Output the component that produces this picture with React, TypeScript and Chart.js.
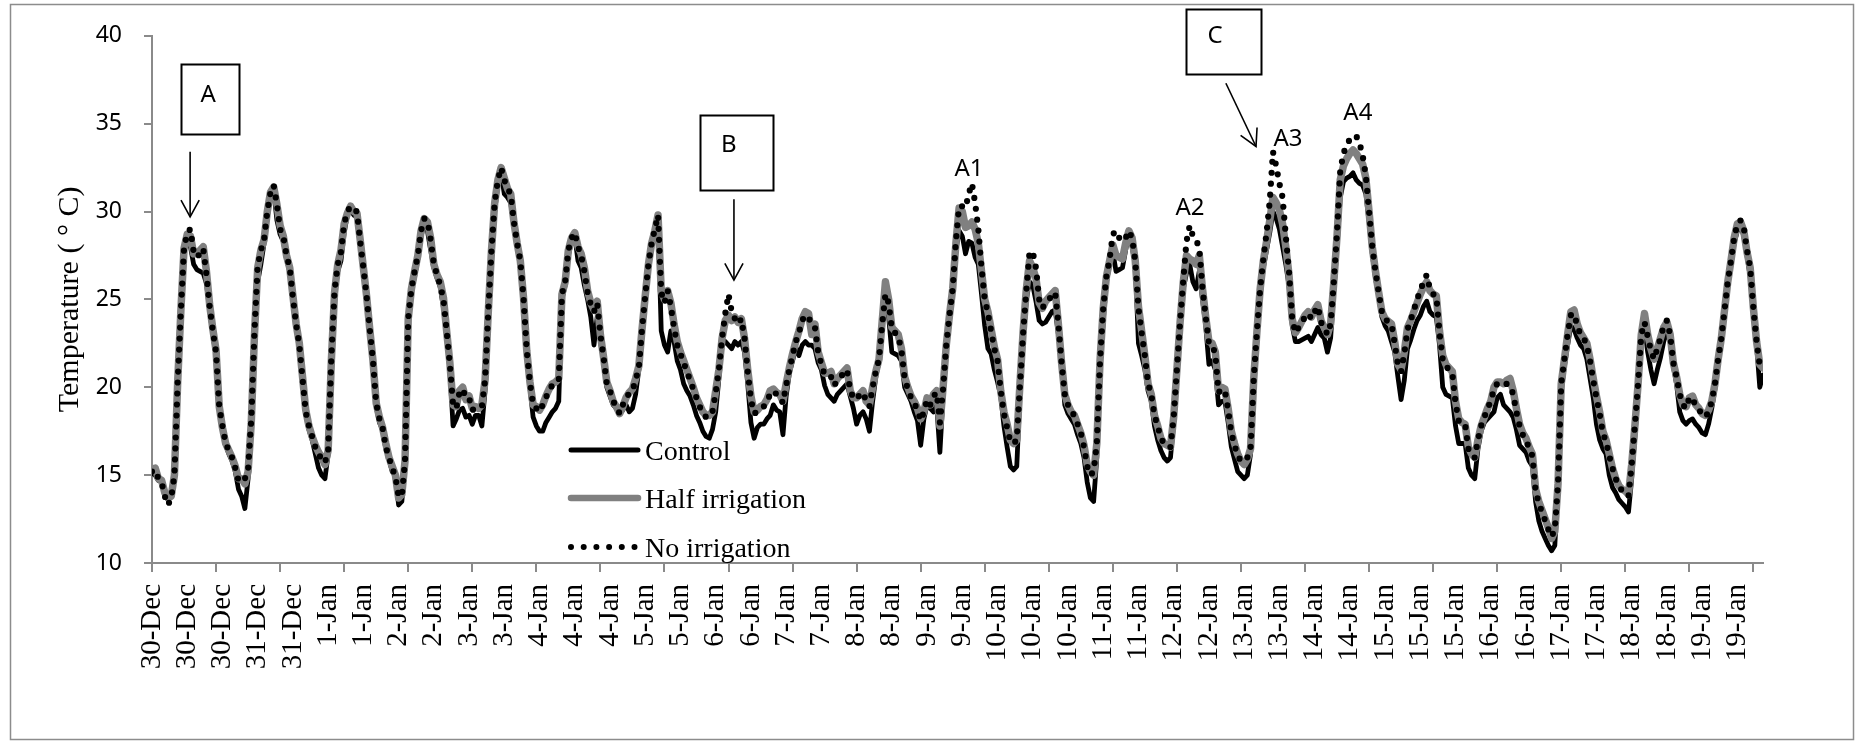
import React, { useEffect, useRef } from 'react';
import { Chart, registerables } from 'chart.js';

Chart.register(...registerables);

// Hourly readings from 30-Dec 00:00 (hour index 0) to 19-Jan 23:00 (hour index 503)
const tickLabels = [
  '30-Dec', '30-Dec', '30-Dec', '31-Dec', '31-Dec', '1-Jan', '1-Jan', '2-Jan', '2-Jan', '3-Jan',
  '3-Jan', '4-Jan', '4-Jan', '4-Jan', '5-Jan', '5-Jan', '6-Jan', '6-Jan', '7-Jan', '7-Jan',
  '8-Jan', '8-Jan', '9-Jan', '9-Jan', '10-Jan', '10-Jan', '10-Jan', '11-Jan', '11-Jan', '12-Jan',
  '12-Jan', '13-Jan', '13-Jan', '14-Jan', '14-Jan', '15-Jan', '15-Jan', '15-Jan', '16-Jan', '16-Jan',
  '17-Jan', '17-Jan', '18-Jan', '18-Jan', '19-Jan', '19-Jan',
];
const labelStep = 11; // hours between category labels
const tickMarkStep = 20; // hours between axis tick marks

const seriesNames = ['Control', 'Half irrigation', 'No irrigation'];

const control = [
  15.1, 15.0, 14.7, 14.6, 13.9, 13.6, 13.8, 15.0, 20.0, 24.2, 27.8, 28.3, 28.0, 27.0, 26.7, 26.6, 26.5, 25.9, 24.4, 23.0, 21.8, 18.7, 17.6, 16.7,
  16.2, 15.8, 15.2, 14.2, 13.8, 13.1, 14.8, 17.8, 22.8, 26.0, 27.0, 28.2, 29.7, 30.9, 31.2, 29.5, 28.7, 28.3, 27.3, 26.6, 25.0, 23.5, 22.3, 20.4,
  18.5, 17.6, 17.0, 16.2, 15.4, 15.0, 14.8, 16.2, 21.4, 25.3, 26.6, 27.2, 28.8, 29.8, 30.1, 29.8, 29.7, 28.1, 26.5, 25.0, 23.1, 21.3, 18.9, 18.0,
  17.6, 16.5, 15.9, 15.2, 15.0, 13.3, 13.5, 15.5, 23.8, 25.5, 26.3, 27.3, 28.6, 29.3, 28.9, 27.8, 26.8, 26.2, 25.7, 24.5, 23.0, 21.0, 17.8, 18.2,
  18.7, 18.8, 18.3, 18.4, 17.9, 18.4, 18.4, 17.8, 19.8, 24.0, 27.6, 30.0, 31.6, 32.2, 31.0, 30.8, 30.5, 29.2, 28.0, 27.0, 25.0, 22.0, 20.0, 18.3,
  17.8, 17.5, 17.5, 18.0, 18.3, 18.6, 18.8, 19.2, 25.0, 25.8, 27.5, 28.3, 28.6, 27.2, 26.8, 25.8, 25.0, 24.0, 22.4, 24.0, 22.6, 21.5, 20.0, 19.5,
  19.0, 18.8, 18.5, 18.7, 19.0, 18.6, 18.8, 19.6, 21.0, 23.2, 25.0, 26.8, 28.0, 28.8, 29.6, 23.2, 22.4, 22.0, 23.2, 22.6, 21.5, 21.0, 20.2, 19.8,
  19.5, 19.0, 18.4, 18.0, 17.5, 17.2, 17.1, 17.6, 18.6, 20.5, 22.4, 22.6, 22.4, 22.2, 22.6, 22.4, 22.6, 22.0, 20.2, 18.0, 17.1, 17.7, 17.9, 17.9,
  18.2, 18.4, 19.0, 18.7, 18.6, 17.3, 19.5, 20.8, 21.5, 22.3, 21.8, 22.4, 22.6, 22.4, 22.4, 22.2, 21.4, 21.0, 20.1, 19.6, 19.4, 19.2, 19.6, 19.8,
  20.0, 20.2, 19.5, 18.8, 17.9, 18.4, 18.6, 18.2, 17.5, 19.2, 20.6, 21.5, 23.5, 25.6, 24.0, 22.0, 21.9, 21.8, 21.5, 20.0, 19.6, 19.2, 18.6, 18.1,
  16.7, 18.2, 19.0, 18.8, 18.6, 19.0, 16.3, 19.5, 22.0, 23.8, 25.4, 27.8, 28.9, 28.6, 27.6, 28.3, 28.2, 27.4, 27.0, 25.3, 23.5, 22.2, 21.9, 21.0,
  20.3, 19.5, 17.8, 16.6, 15.5, 15.3, 15.5, 19.6, 22.8, 25.0, 26.0, 25.8, 24.9, 23.8, 23.6, 23.7, 24.0, 24.3, 24.4, 23.0, 21.3, 19.0, 18.5, 18.2,
  17.9, 17.3, 16.8, 16.0, 14.6, 13.7, 13.5, 16.0, 21.3, 23.8, 26.0, 27.0, 27.7, 26.6, 26.7, 26.8, 27.8, 28.8, 28.0, 27.0, 22.5, 21.8, 21.0, 19.8,
  19.2, 17.8, 17.0, 16.4, 16.0, 15.8, 16.0, 18.0, 20.8, 23.5, 25.6, 26.5, 27.0, 26.0, 25.6, 26.6, 25.0, 23.5, 21.3, 21.5, 21.0, 19.0, 19.2, 19.2,
  18.0, 16.6, 15.9, 15.2, 15.0, 14.8, 15.0, 16.2, 20.2, 22.8, 25.2, 26.8, 27.8, 28.8, 30.0, 29.6, 29.0, 28.0, 27.0, 25.8, 23.5, 22.6, 22.6, 22.7,
  22.8, 22.9, 22.6, 23.0, 23.4, 23.0, 22.8, 22.0, 22.8, 25.5, 28.0, 30.8, 31.7, 31.9, 32.0, 32.2, 31.8, 31.6, 31.5, 31.0, 29.4, 27.6, 26.2, 25.2,
  24.0, 23.5, 23.2, 22.6, 22.0, 20.6, 19.3, 20.4, 22.2, 22.7, 23.3, 23.8, 24.1, 24.6, 24.9, 24.3, 24.1, 24.0, 22.4, 20.0, 19.6, 19.5, 19.4, 17.8,
  16.8, 16.8, 16.8, 15.4, 15.0, 14.8, 16.5, 17.5, 18.0, 18.2, 18.4, 18.6, 19.4, 19.6, 19.0, 18.8, 18.6, 18.3, 17.6, 16.7, 16.5, 16.3, 15.8, 15.5,
  13.5, 12.4, 11.8, 11.4, 11.0, 10.7, 11.0, 14.5, 19.8, 21.2, 22.4, 23.5, 23.3, 22.8, 22.4, 22.2, 21.6, 20.5, 19.4, 17.9, 17.0, 16.5, 16.2, 15.0,
  14.3, 14.0, 13.6, 13.4, 13.2, 12.9, 14.8, 17.2, 19.8, 22.4, 23.4, 22.0, 21.0, 20.2, 21.0, 21.7, 22.6, 23.2, 22.6, 21.2, 20.2, 18.6, 18.1, 17.9,
  18.1, 18.2, 17.9, 17.7, 17.4, 17.3, 17.9, 18.8, 19.9, 21.4, 22.6, 24.2, 25.8, 27.0, 28.2, 28.9, 29.2, 28.6, 27.5, 26.3, 24.3, 22.4, 20.0, 20.7,
];

const halfIrrigation = [
  15.3, 15.4, 14.8, 14.7, 14.0, 13.7, 13.8, 15.0, 20.2, 24.3, 27.9, 28.7, 28.6, 27.6, 27.6, 27.8, 28.0, 26.6, 24.7, 23.3, 22.1, 18.9, 17.7, 16.8,
  16.4, 16.0, 15.5, 14.8, 14.8, 14.5, 15.2, 18.0, 23.0, 26.8, 27.8, 28.4, 30.0, 31.1, 31.4, 30.4, 29.2, 28.6, 27.5, 26.8, 25.2, 23.6, 22.5, 20.6,
  18.7, 17.8, 17.2, 16.7, 16.3, 16.0, 15.6, 16.4, 21.5, 25.4, 27.0, 27.8, 29.3, 29.9, 30.3, 30.0, 29.9, 28.4, 26.8, 25.2, 23.3, 21.5, 19.1, 18.3,
  17.7, 16.8, 16.0, 15.5, 15.0, 13.7, 13.9, 15.8, 23.9, 25.6, 26.6, 27.5, 28.9, 29.6, 29.4, 28.5, 27.0, 26.4, 26.0, 25.1, 23.2, 21.4, 19.0, 18.9,
  19.8, 20.0, 19.3, 19.5, 18.8, 18.9, 18.8, 19.0, 20.4, 24.3, 27.8, 30.5, 31.8, 32.5, 31.9, 31.3, 31.0, 29.4, 28.2, 27.2, 25.1, 22.1, 20.3, 19.0,
  18.9, 18.7, 19.0, 19.5, 19.9, 20.2, 20.3, 20.5, 25.3, 26.0, 27.8, 28.5, 28.8, 28.0, 27.6, 26.8, 25.5, 24.8, 24.4, 24.9, 23.0, 21.7, 20.3, 19.8,
  19.2, 18.9, 18.5, 18.9, 19.4, 19.7, 19.9, 20.5, 21.2, 23.3, 25.2, 27.0, 28.2, 28.9, 29.8, 25.5, 25.0, 25.5, 24.8, 23.6, 22.6, 22.0, 21.5, 21.0,
  20.5, 20.0, 19.4, 19.0, 18.6, 18.4, 18.4, 18.6, 19.8, 21.0, 22.8, 23.8, 24.1, 23.8, 24.0, 23.7, 23.9, 22.8, 21.0, 19.5, 18.6, 18.7, 18.9, 19.0,
  19.3, 19.8, 19.9, 19.7, 19.6, 19.2, 20.2, 21.1, 21.9, 22.6, 23.2, 23.9, 24.3, 24.2, 23.0, 23.6, 22.0, 21.4, 20.8, 20.8, 20.9, 20.2, 20.5, 20.7,
  20.9, 21.1, 19.8, 19.4, 19.4, 19.6, 19.8, 19.2, 19.0, 20.0, 20.9, 21.6, 23.8, 26.0, 25.0, 23.4, 23.2, 23.0, 22.2, 20.6, 20.0, 19.5, 19.2, 18.8,
  18.2, 18.6, 19.4, 19.0, 19.6, 19.8, 17.8, 20.0, 22.4, 24.1, 25.6, 28.2, 30.2, 30.0, 29.1, 29.2, 29.4, 29.0, 28.2, 26.6, 25.0, 24.3, 23.3, 22.3,
  21.6, 19.8, 18.6, 17.9, 17.0, 16.8, 17.0, 20.2, 23.2, 25.6, 27.2, 26.8, 26.2, 24.8, 24.5, 24.9, 25.1, 25.3, 25.5, 23.6, 21.4, 19.6, 19.0, 18.6,
  18.4, 17.9, 17.4, 16.7, 15.6, 15.2, 15.0, 16.8, 21.5, 24.5, 26.3, 27.2, 28.1, 27.5, 27.4, 27.3, 28.2, 28.9, 28.5, 27.2, 24.6, 23.2, 21.8, 20.2,
  19.6, 18.4, 17.8, 17.1, 16.8, 16.7, 16.6, 18.3, 21.0, 23.7, 26.0, 27.5, 27.3, 27.2, 27.0, 27.5, 25.6, 24.0, 22.6, 22.5, 22.0, 19.8, 20.0, 19.9,
  18.8, 17.5, 16.8, 16.2, 15.8, 15.6, 15.9, 16.5, 20.5, 23.2, 25.6, 27.2, 28.3, 29.5, 30.8, 30.5, 30.1, 29.3, 28.0, 26.4, 23.9, 23.1, 23.4, 23.75,
  24.1, 24.3, 24.0, 24.4, 24.7, 23.8, 23.4, 23.0, 23.6, 26.0, 28.6, 31.8, 32.6, 33.0, 33.3, 33.5, 33.3, 33.0, 32.7, 31.9, 30.0, 28.0, 26.6, 25.4,
  24.3, 23.9, 23.75, 23.6, 22.6, 21.3, 21.0, 22.0, 23.4, 23.8, 24.3, 24.8, 25.3, 25.7, 26.0, 25.5, 25.3, 25.2, 23.2, 21.8, 21.3, 21.1, 20.9, 19.2,
  18.2, 18.0, 17.9, 16.6, 16.2, 16.0, 17.0, 17.8, 18.3, 18.8, 19.2, 20.0, 20.3, 20.3, 20.2, 20.4, 20.5, 19.8, 18.8, 17.9, 17.4, 17.1, 16.6, 16.2,
  14.2, 13.5, 13.0, 12.5, 12.0, 11.4, 11.8, 14.5, 20.2, 21.6, 23.0, 24.3, 24.4, 23.6, 23.1, 22.8, 22.5, 21.6, 20.5, 19.5, 18.6, 17.5, 17.0, 16.2,
  15.4, 14.8, 14.4, 14.2, 14.1, 13.9, 15.6, 17.8, 20.2, 23.0, 24.2, 23.0, 22.2, 21.6, 22.2, 22.8, 23.4, 23.7, 23.0, 21.4, 20.6, 19.6, 19.0, 18.9,
  19.4, 19.5, 19.0, 18.8, 18.5, 18.4, 18.7, 19.2, 20.2, 21.6, 22.8, 24.4, 26.0, 27.2, 28.5, 29.3, 29.4, 28.9, 27.7, 26.8, 24.5, 22.6, 21.3, 21.1,
];

const noIrrigation = [
  15.2, 15.3, 14.8, 14.6, 13.8, 13.3, 13.7, 15.0, 20.2, 24.3, 27.9, 28.8, 29.0, 27.7, 27.4, 27.6, 27.9, 26.4, 24.6, 23.2, 22.0, 18.9, 17.8, 16.8,
  16.4, 16.0, 15.4, 14.7, 14.6, 14.8, 15.3, 18.2, 23.2, 26.9, 27.8, 28.4, 30.0, 31.1, 31.5, 30.4, 29.0, 28.6, 27.5, 26.8, 25.1, 23.6, 22.4, 20.5,
  18.6, 17.8, 17.2, 16.6, 16.2, 15.9, 15.7, 16.4, 21.7, 25.5, 27.0, 27.7, 29.3, 30.0, 30.3, 30.1, 30.0, 28.3, 26.8, 25.2, 23.3, 21.5, 19.1, 18.2,
  17.7, 16.6, 16.0, 15.4, 14.9, 13.8, 13.8, 15.8, 23.9, 25.6, 26.6, 27.5, 28.9, 29.6, 29.5, 28.4, 27.0, 26.4, 25.8, 25.0, 23.2, 21.3, 19.0, 18.8,
  19.7, 19.9, 19.4, 19.4, 18.7, 18.8, 18.8, 18.9, 20.4, 24.3, 27.8, 30.5, 31.8, 32.5, 31.8, 31.3, 31.0, 29.4, 28.2, 27.2, 25.1, 22.1, 20.3, 19.0,
  18.8, 18.6, 19.0, 19.4, 19.9, 20.1, 20.3, 20.4, 25.3, 26.0, 27.8, 28.5, 28.8, 28.0, 27.5, 26.6, 25.4, 24.7, 24.3, 24.8, 23.0, 21.7, 20.2, 19.8,
  19.2, 18.9, 18.5, 19.0, 19.3, 19.7, 19.8, 20.4, 21.1, 23.3, 25.2, 27.0, 28.2, 29.0, 29.8, 25.4, 24.8, 25.5, 24.6, 23.4, 22.4, 21.9, 21.4, 20.9,
  20.4, 19.9, 19.4, 18.9, 18.5, 18.3, 18.3, 18.6, 19.7, 21.0, 22.8, 24.2, 25.3, 24.3, 23.9, 23.6, 23.9, 22.8, 20.9, 19.3, 18.5, 18.6, 18.8, 18.9,
  19.2, 19.6, 19.8, 19.6, 19.5, 19.1, 20.1, 21.0, 21.8, 22.6, 23.1, 23.8, 24.1, 24.0, 23.5, 23.4, 22.0, 21.3, 20.7, 20.7, 20.6, 20.1, 20.4, 20.6,
  20.8, 21.0, 19.8, 19.4, 19.3, 19.6, 19.7, 19.2, 18.9, 20.0, 20.9, 21.6, 23.6, 25.3, 24.8, 23.3, 23.1, 22.9, 22.1, 20.5, 19.9, 19.4, 19.1, 18.7,
  18.1, 18.6, 19.3, 19.0, 19.5, 19.7, 18.0, 19.9, 22.4, 24.1, 25.6, 28.3, 30.3, 30.3, 30.2, 31.0, 31.6, 30.5, 29.0, 26.8, 25.0, 24.2, 23.2, 22.2,
  21.5, 19.8, 18.5, 17.7, 16.9, 16.8, 17.0, 20.1, 23.1, 25.5, 27.7, 27.7, 26.8, 25.0, 24.5, 24.8, 25.0, 25.2, 25.4, 23.6, 21.4, 19.6, 19.0, 18.6,
  18.4, 17.9, 17.4, 16.6, 15.5, 15.0, 15.2, 16.8, 21.5, 24.5, 26.3, 27.3, 28.7, 28.9, 28.5, 28.3, 28.5, 28.9, 28.5, 27.2, 24.5, 23.1, 21.8, 20.2,
  19.6, 18.4, 17.8, 17.1, 16.8, 16.6, 16.6, 18.3, 21.0, 23.7, 26.1, 28.3, 29.2, 28.6, 28.4, 27.9, 25.6, 24.0, 22.5, 22.4, 21.9, 19.7, 19.9, 19.8,
  18.7, 17.4, 16.7, 16.1, 15.8, 15.8, 16.0, 16.5, 20.5, 23.2, 25.6, 27.3, 28.8, 30.6, 33.4, 32.6, 31.6, 30.8, 28.6, 26.6, 23.9, 23.1, 23.4, 23.7,
  24.0, 24.2, 23.9, 24.3, 24.6, 23.7, 23.4, 23.0, 23.6, 26.0, 28.8, 32.3, 33.3, 33.8, 34.1, 34.3, 34.3, 33.9, 33.2, 32.0, 30.0, 28.0, 26.6, 25.4,
  24.3, 23.9, 23.7, 23.6, 22.5, 21.3, 20.9, 21.9, 23.3, 23.8, 24.4, 25.0, 25.5, 26.0, 26.4, 25.6, 25.3, 25.2, 23.1, 21.6, 21.2, 21.0, 20.8, 19.1,
  18.1, 17.9, 17.9, 16.5, 16.1, 16.0, 17.0, 17.8, 18.3, 18.8, 19.2, 19.9, 20.2, 20.2, 20.1, 20.2, 20.1, 19.6, 18.6, 17.8, 17.3, 17.0, 16.5, 16.1,
  14.1, 13.4, 12.9, 12.4, 11.9, 11.5, 11.9, 14.5, 20.2, 21.6, 23.0, 24.1, 24.2, 23.5, 23.0, 22.8, 22.4, 21.5, 20.4, 19.4, 18.5, 17.4, 16.9, 16.1,
  15.4, 14.8, 14.4, 14.1, 14.0, 13.8, 15.6, 17.8, 20.2, 23.0, 23.7, 22.9, 22.1, 21.6, 22.2, 22.8, 23.5, 23.8, 23.0, 21.4, 20.6, 19.6, 19.0, 18.8,
  19.4, 19.4, 18.9, 18.7, 18.5, 18.3, 18.6, 19.2, 20.2, 21.6, 22.8, 24.4, 26.0, 27.2, 28.5, 29.3, 29.5, 29.1, 27.8, 26.8, 24.5, 22.6, 21.2, 21.0,
];

// Annotation anchors in data units (hour, °C)
const annotationBoxes = [
  { text: 'A', h0: 9.0, h1: 27.2, t0: 38.4, t1: 34.4, th: 17.5, tt: 36.6 },
  { text: 'B', h0: 171.1, h1: 193.9, t0: 35.5, t1: 31.2, th: 180.1, tt: 33.8 },
  { text: 'C', h0: 322.8, h1: 346.2, t0: 41.5, t1: 37.8, th: 331.9, tt: 40.0 },
];
const annotationArrows = [
  { h0: 11.9, t0: 33.4, h1: 11.9, t1: 29.7 },
  { h0: 181.7, t0: 30.7, h1: 181.7, t1: 26.1 },
  { h0: 335.3, t0: 37.3, h1: 344.7, t1: 33.7 },
];
const annotationLabels = [
  { text: 'A1', h: 255.1, t: 32.4 },
  { text: 'A2', h: 324.1, t: 30.2 },
  { text: 'A3', h: 354.7, t: 34.1 },
  { text: 'A4', h: 376.5, t: 35.6 },
];

const W = 1863;
const H = 742;
const AXIS_GREY = '#8a8a8a';
const SERIF = '"Liberation Serif", "Times New Roman", serif';
const SANS = '"Noto Sans", "Open Sans", sans-serif';

const styles = [
  { color: '#000000', width: 4.8, dash: [] as number[] },
  { color: '#808080', width: 7.5, dash: [] as number[] },
  { color: '#000000', width: 6.2, dash: [0, 11] },
];

const framePlugin = {
  id: 'frame',
  beforeDraw(chart: any) {
    const { ctx } = chart;
    ctx.save();
    ctx.fillStyle = '#ffffff';
    ctx.fillRect(0, 0, chart.width, chart.height);
    ctx.strokeStyle = '#8c8c8c';
    ctx.lineWidth = 1.5;
    ctx.strokeRect(10.5, 4.5, 1843, 735);
    ctx.restore();
  },
};

const xTickPlugin = {
  id: 'xTickMarks',
  afterDraw(chart: any) {
    const { ctx } = chart;
    const x = chart.scales.x;
    ctx.save();
    ctx.strokeStyle = AXIS_GREY;
    ctx.lineWidth = 2;
    for (let v = 0; v <= x.max; v += tickMarkStep) {
      const px = Math.round(x.getPixelForValue(v));
      ctx.beginPath();
      ctx.moveTo(px, x.top);
      ctx.lineTo(px, x.top + 9);
      ctx.stroke();
    }
    ctx.restore();
  },
};

const annotationPlugin = {
  id: 'annotations',
  afterDraw(chart: any) {
    const { ctx } = chart;
    const xs = chart.scales.x;
    const ys = chart.scales.y;
    const px = (h: number) => xs.getPixelForValue(h);
    const py = (t: number) => ys.getPixelForValue(t);
    ctx.save();
    ctx.strokeStyle = '#000';
    ctx.fillStyle = '#000';
    ctx.font = `24px ${SANS}`;
    ctx.textAlign = 'center';
    ctx.textBaseline = 'middle';
    annotationBoxes.forEach((b) => {
      const x0 = Math.round(px(b.h0)) + 0.5;
      const x1 = Math.round(px(b.h1)) + 0.5;
      const y0 = Math.round(py(b.t0)) + 0.5;
      const y1 = Math.round(py(b.t1)) + 0.5;
      ctx.lineWidth = 2;
      ctx.strokeRect(x0, y0, x1 - x0, y1 - y0);
      ctx.fillText(b.text, px(b.th), py(b.tt));
    });
    annotationArrows.forEach((a) => {
      const x0 = px(a.h0), y0 = py(a.t0), x1 = px(a.h1), y1 = py(a.t1);
      ctx.lineWidth = 1.6;
      ctx.beginPath();
      ctx.moveTo(x0, y0);
      ctx.lineTo(x1, y1);
      ctx.stroke();
      const ang = Math.atan2(y1 - y0, x1 - x0);
      const len = 19;
      const spread = 0.5;
      ctx.beginPath();
      ctx.moveTo(x1 - len * Math.cos(ang - spread), y1 - len * Math.sin(ang - spread));
      ctx.lineTo(x1, y1);
      ctx.lineTo(x1 - len * Math.cos(ang + spread), y1 - len * Math.sin(ang + spread));
      ctx.stroke();
    });
    annotationLabels.forEach((l) => {
      ctx.fillText(l.text, px(l.h), py(l.t));
    });
    ctx.restore();
  },
};

const legendPlugin = {
  id: 'insideLegend',
  afterDraw(chart: any) {
    const { ctx } = chart;
    const rows = [450, 498, 547];
    ctx.save();
    seriesNames.forEach((name, i) => {
      const s = styles[i];
      const y = rows[i];
      ctx.strokeStyle = s.color;
      ctx.lineWidth = s.dash.length ? 6 : i === 0 ? 5 : 6.5;
      ctx.lineCap = 'round';
      ctx.setLineDash(s.dash.length ? [0, 12.7] : []);
      ctx.beginPath();
      ctx.moveTo(571, y);
      ctx.lineTo(s.dash.length ? 636 : 638, y);
      ctx.stroke();
      ctx.setLineDash([]);
      ctx.fillStyle = '#000';
      ctx.font = `28px ${SERIF}`;
      ctx.textAlign = 'left';
      ctx.textBaseline = 'alphabetic';
      ctx.fillText(name, 645, y + 9.5);
    });
    ctx.restore();
  },
};

export default function App() {
  const canvasRef = useRef<HTMLCanvasElement | null>(null);

  useEffect(() => {
    document.body.style.margin = '0';
    const canvas = canvasRef.current;
    if (!canvas) return;
    const toXY = (arr: number[]) => arr.map((v, i) => ({ x: i, y: v }));
    const seriesData = [control, halfIrrigation, noIrrigation];

    const chart = new Chart(canvas, {
      type: 'line',
      data: {
        datasets: seriesData.map((arr, i) => ({
          label: seriesNames[i],
          data: toXY(arr),
          borderColor: styles[i].color,
          backgroundColor: styles[i].color,
          borderWidth: styles[i].width,
          borderDash: styles[i].dash,
          borderCapStyle: 'round',
          borderJoinStyle: 'round',
          pointRadius: 0,
          pointHoverRadius: 0,
          fill: false,
          tension: 0,
          order: 3 - i,
        })),
      },
      options: {
        animation: false,
        responsive: false,
        devicePixelRatio: 1,
        events: [],
        layout: { padding: { left: 10, top: 33, right: 100, bottom: 0 } },
        plugins: { legend: { display: false }, tooltip: { enabled: false } },
        scales: {
          x: {
            type: 'linear',
            min: 0,
            max: 503,
            afterBuildTicks: (s: any) => {
              s.ticks = tickLabels.map((_, i) => ({ value: i * labelStep }));
            },
            afterFit: (s: any) => {
              s.height = 179;
            },
            grid: { display: false, drawTicks: false },
            border: { display: true, color: AXIS_GREY, width: 2 },
            ticks: {
              autoSkip: false,
              maxRotation: 90,
              minRotation: 90,
              padding: 21,
              color: '#000',
              font: { family: SERIF, size: 29 },
              callback: (_v: any, i: number) => tickLabels[i],
            },
          },
          y: {
            min: 10,
            max: 40,
            afterFit: (s: any) => {
              s.width = 142;
            },
            ticks: { stepSize: 5, padding: 22, color: '#000', font: { family: SANS, size: 23 } },
            grid: { drawOnChartArea: false, drawTicks: true, tickLength: 8, color: AXIS_GREY, lineWidth: 2 },
            border: { display: true, color: AXIS_GREY, width: 2 },
            title: {
              display: true,
              text: 'Temperature ( ° C)',
              color: '#000',
              font: { family: SERIF, size: 30 },
              padding: { top: 42, bottom: 0 },
            },
          },
        },
      },
      plugins: [framePlugin, xTickPlugin, annotationPlugin, legendPlugin],
    } as any);

    return () => chart.destroy();
  }, []);

  return (
    <div style={{ width: W, height: H }}>
      <canvas ref={canvasRef} width={W} height={H} style={{ display: 'block' }} />
    </div>
  );
}
